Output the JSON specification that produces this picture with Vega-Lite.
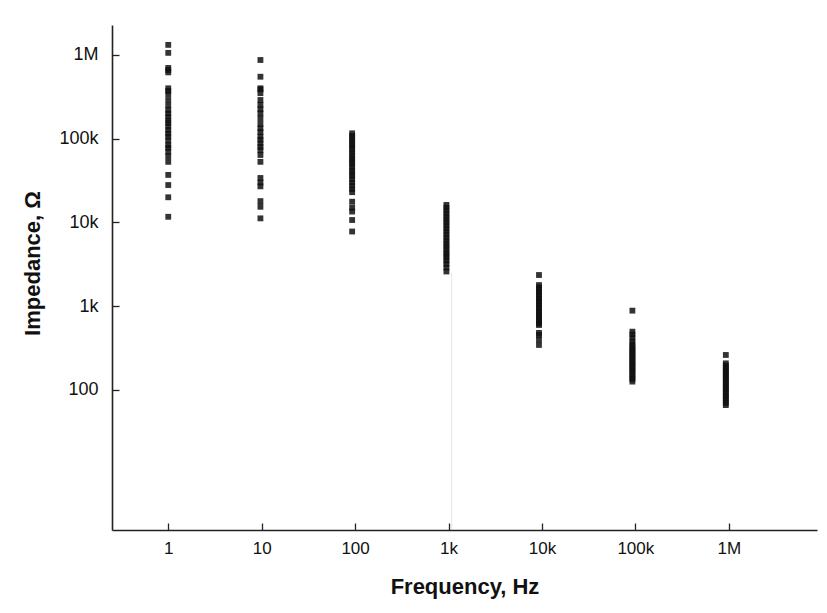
{
  "$schema": "https://vega.github.io/schema/vega-lite/v6.json",
  "width": 705,
  "height": 505,
  "autosize": "none",
  "padding": {"left": 112, "top": 25, "right": 10, "bottom": 83},
  "background": "white",
  "config": {"view": {"stroke": null}, "font": "Liberation Sans"},
  "datasets": {
    "pts": [
      {"f": 1, "z": 1320000}, {"f": 1, "z": 1060000}, {"f": 1, "z": 700000}, {"f": 1, "z": 660000}, {"f": 1, "z": 620000},
      {"f": 1, "z": 400000}, {"f": 1, "z": 372000}, {"f": 1, "z": 340000}, {"f": 1, "z": 290000}, {"f": 1, "z": 250000},
      {"f": 1, "z": 220000}, {"f": 1, "z": 200000}, {"f": 1, "z": 183000}, {"f": 1, "z": 165000}, {"f": 1, "z": 154000},
      {"f": 1, "z": 140000}, {"f": 1, "z": 127000}, {"f": 1, "z": 115000}, {"f": 1, "z": 106000}, {"f": 1, "z": 95000},
      {"f": 1, "z": 84000}, {"f": 1, "z": 78000}, {"f": 1, "z": 70000}, {"f": 1, "z": 62000}, {"f": 1, "z": 53000},
      {"f": 1, "z": 37000}, {"f": 1, "z": 28000}, {"f": 1, "z": 20000}, {"f": 1, "z": 11700},
      {"f": 9.7, "z": 871000}, {"f": 9.7, "z": 550000}, {"f": 9.7, "z": 400000}, {"f": 9.7, "z": 389000}, {"f": 9.7, "z": 350000},
      {"f": 9.7, "z": 290000}, {"f": 9.7, "z": 253000}, {"f": 9.7, "z": 225000}, {"f": 9.7, "z": 201000}, {"f": 9.7, "z": 175000},
      {"f": 9.7, "z": 150000}, {"f": 9.7, "z": 133000}, {"f": 9.7, "z": 120000}, {"f": 9.7, "z": 106000}, {"f": 9.7, "z": 97000},
      {"f": 9.7, "z": 88000}, {"f": 9.7, "z": 80000}, {"f": 9.7, "z": 73000}, {"f": 9.7, "z": 64000}, {"f": 9.7, "z": 53000},
      {"f": 9.7, "z": 34000}, {"f": 9.7, "z": 30000}, {"f": 9.7, "z": 27000}, {"f": 9.7, "z": 18000}, {"f": 9.7, "z": 15400},
      {"f": 9.7, "z": 11200},
      {"f": 93, "z": 116000}, {"f": 93, "z": 108000}, {"f": 93, "z": 100000}, {"f": 93, "z": 93000}, {"f": 93, "z": 86000},
      {"f": 93, "z": 80000}, {"f": 93, "z": 74000}, {"f": 93, "z": 68000}, {"f": 93, "z": 63000}, {"f": 93, "z": 58000},
      {"f": 93, "z": 54000}, {"f": 93, "z": 50000}, {"f": 93, "z": 46000}, {"f": 93, "z": 42000}, {"f": 93, "z": 39000},
      {"f": 93, "z": 36000}, {"f": 93, "z": 33000}, {"f": 93, "z": 30000}, {"f": 93, "z": 27500}, {"f": 93, "z": 25000},
      {"f": 93, "z": 23000}, {"f": 93, "z": 17700}, {"f": 93, "z": 15000}, {"f": 93, "z": 13500}, {"f": 93, "z": 10700},
      {"f": 93, "z": 7800},
      {"f": 950, "z": 16200}, {"f": 950, "z": 15000}, {"f": 950, "z": 13800}, {"f": 950, "z": 12700}, {"f": 950, "z": 11700},
      {"f": 950, "z": 10800}, {"f": 950, "z": 10000}, {"f": 950, "z": 9200}, {"f": 950, "z": 8500}, {"f": 950, "z": 7800},
      {"f": 950, "z": 7200}, {"f": 950, "z": 6600}, {"f": 950, "z": 6100}, {"f": 950, "z": 5600}, {"f": 950, "z": 5200},
      {"f": 950, "z": 4800}, {"f": 950, "z": 4400}, {"f": 950, "z": 4100}, {"f": 950, "z": 3800}, {"f": 950, "z": 3500},
      {"f": 950, "z": 3200}, {"f": 950, "z": 2900}, {"f": 950, "z": 2600},
      {"f": 9300, "z": 2360}, {"f": 9300, "z": 1790}, {"f": 9300, "z": 1680}, {"f": 9300, "z": 1580}, {"f": 9300, "z": 1480},
      {"f": 9300, "z": 1390}, {"f": 9300, "z": 1300}, {"f": 9300, "z": 1220}, {"f": 9300, "z": 1150}, {"f": 9300, "z": 1080},
      {"f": 9300, "z": 1010}, {"f": 9300, "z": 950}, {"f": 9300, "z": 890}, {"f": 9300, "z": 840}, {"f": 9300, "z": 790},
      {"f": 9300, "z": 740}, {"f": 9300, "z": 700}, {"f": 9300, "z": 660}, {"f": 9300, "z": 620}, {"f": 9300, "z": 597},
      {"f": 9300, "z": 480}, {"f": 9300, "z": 454}, {"f": 9300, "z": 400}, {"f": 9300, "z": 345},
      {"f": 93000, "z": 886}, {"f": 93000, "z": 497}, {"f": 93000, "z": 460}, {"f": 93000, "z": 420}, {"f": 93000, "z": 380},
      {"f": 93000, "z": 350}, {"f": 93000, "z": 329}, {"f": 93000, "z": 310}, {"f": 93000, "z": 292}, {"f": 93000, "z": 275},
      {"f": 93000, "z": 260}, {"f": 93000, "z": 245}, {"f": 93000, "z": 230}, {"f": 93000, "z": 217}, {"f": 93000, "z": 205},
      {"f": 93000, "z": 193}, {"f": 93000, "z": 182}, {"f": 93000, "z": 172}, {"f": 93000, "z": 162}, {"f": 93000, "z": 152},
      {"f": 93000, "z": 143}, {"f": 93000, "z": 135}, {"f": 93000, "z": 126},
      {"f": 930000, "z": 262}, {"f": 930000, "z": 208}, {"f": 930000, "z": 196}, {"f": 930000, "z": 185}, {"f": 930000, "z": 174},
      {"f": 930000, "z": 164}, {"f": 930000, "z": 155}, {"f": 930000, "z": 146}, {"f": 930000, "z": 138}, {"f": 930000, "z": 130},
      {"f": 930000, "z": 122}, {"f": 930000, "z": 115}, {"f": 930000, "z": 108}, {"f": 930000, "z": 102}, {"f": 930000, "z": 96},
      {"f": 930000, "z": 90}, {"f": 930000, "z": 85}, {"f": 930000, "z": 80}, {"f": 930000, "z": 75}, {"f": 930000, "z": 70},
      {"f": 930000, "z": 66}
    ],
    "streak": [{"f": 1080, "z": 2500, "z2": 2.2}]
  },
  "layer": [
    {
      "data": {"name": "streak"},
      "mark": {"type": "rule", "color": "#e6e6e6", "strokeWidth": 1},
      "encoding": {
        "x": {"field": "f", "type": "quantitative"},
        "y": {"field": "z", "type": "quantitative"},
        "y2": {"field": "z2"}
      }
    },
    {
      "data": {"name": "pts"},
      "mark": {"type": "point", "shape": "square", "filled": true, "color": "#111", "size": 34, "opacity": 0.85},
      "encoding": {
        "x": {
          "field": "f", "type": "quantitative",
          "scale": {"type": "log", "domain": [0.25, 8800000], "nice": false},
          "axis": {
            "title": "Frequency, Hz",
            "values": [1, 10, 100, 1000, 10000, 100000, 1000000],
            "labelExpr": "datum.value >= 1000000 ? '1M' : datum.value >= 100000 ? '100k' : datum.value >= 10000 ? '10k' : datum.value >= 1000 ? '1k' : datum.value >= 100 ? '100' : datum.value >= 10 ? '10' : '1'",
            "grid": false,
            "domainColor": "#222", "domainWidth": 1.6,
            "tickColor": "#222", "tickWidth": 1.3, "tickSize": -7,
            "labelPadding": 17, "labelFontSize": 17, "labelColor": "#111", "labelFont": "Liberation Sans",
            "titleFontSize": 22, "titleFontWeight": "bold", "titleColor": "#111", "titleFont": "Liberation Sans",
            "titlePadding": 20
          }
        },
        "y": {
          "field": "z", "type": "quantitative",
          "scale": {"type": "log", "domain": [2.13, 2280000], "nice": false},
          "axis": {
            "title": "Impedance, Ω",
            "values": [100, 1000, 10000, 100000, 1000000],
            "labelExpr": "datum.value >= 1000000 ? '1M' : datum.value >= 100000 ? '100k' : datum.value >= 10000 ? '10k' : datum.value >= 1000 ? '1k' : '100'",
            "grid": false,
            "domainColor": "#222", "domainWidth": 1.6,
            "tickColor": "#222", "tickWidth": 1.3, "tickSize": -7,
            "labelPadding": 21, "labelFontSize": 18, "labelColor": "#111", "labelFont": "Liberation Sans",
            "titleFontSize": 22, "titleFontWeight": "bold", "titleColor": "#111", "titleFont": "Liberation Sans",
            "titleX": -80, "titleY": 238, "titleAngle": -90, "titleAlign": "center", "titleBaseline": "middle"
          }
        }
      }
    }
  ]
}
